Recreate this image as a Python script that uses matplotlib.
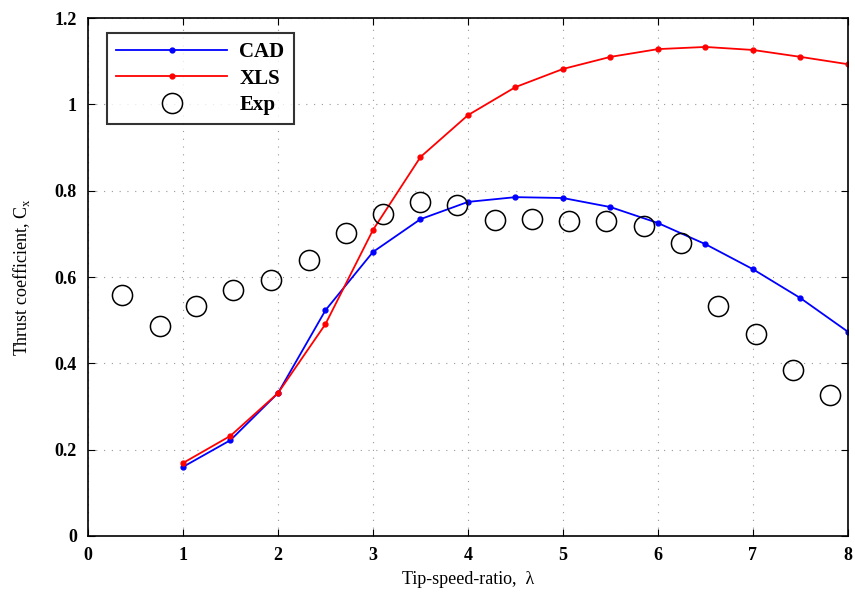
import matplotlib
matplotlib.use("Agg")
import matplotlib.pyplot as plt

plt.rcParams['font.family'] = ['Liberation Serif', 'DejaVu Serif']
plt.rcParams['mathtext.fontset'] = 'custom'
plt.rcParams['mathtext.rm'] = 'Liberation Serif'

tsr = [1, 1.5, 2, 2.5, 3, 3.5, 4, 4.5, 5, 5.5, 6, 6.5, 7, 7.5, 8]
cad = [0.160, 0.222, 0.331, 0.523, 0.658, 0.734, 0.774, 0.785, 0.783,
       0.762, 0.725, 0.676, 0.618, 0.551, 0.473]
xls = [0.169, 0.232, 0.331, 0.491, 0.709, 0.878, 0.975, 1.040, 1.082,
       1.110, 1.128, 1.133, 1.126, 1.110, 1.093]

exp_x = [0.36, 0.76, 1.14, 1.53, 1.93, 2.33, 2.72, 3.11, 3.49, 3.88,
         4.28, 4.67, 5.06, 5.45, 5.85, 6.24, 6.63, 7.03, 7.42, 7.81]
exp_y = [0.558, 0.486, 0.533, 0.570, 0.593, 0.639, 0.702, 0.746, 0.774, 0.767,
         0.732, 0.734, 0.730, 0.730, 0.718, 0.679, 0.533, 0.468, 0.385, 0.327]

fig = plt.figure(figsize=(8.55, 6.01), dpi=100)
ax = fig.add_axes([0.1029, 0.1082, 0.8889, 0.8618])

ax.plot(tsr, cad, color='blue', lw=1.3, marker='.', ms=7, label='CAD')
ax.plot(tsr, xls, color='red', lw=1.3, marker='.', ms=7, label='XLS')
ax.plot(exp_x, exp_y, ls='none', marker='o', ms=14.5, mfc='none', mec='black',
        mew=1.1, label='Exp')

ax.set_xlim(0, 8)
ax.set_ylim(0, 1.2)
ax.set_xticks(range(9))
ax.set_yticks([0, 0.2, 0.4, 0.6, 0.8, 1.0, 1.2])
ax.set_yticklabels(['0', '0.2', '0.4', '0.6', '0.8', '1', '1.2'])
ax.grid(True, ls=(0, (1, 6)), color='#999999', lw=0.8)
ax.tick_params(direction='in', top=True, right=True, length=5, labelsize=13, pad=8)
for lab in ax.get_xticklabels() + ax.get_yticklabels():
    lab.set_fontweight('bold')
for s in ax.spines.values():
    s.set_linewidth(1.2)

ax.set_xlabel('Tip-speed-ratio,  λ', fontsize=13, labelpad=5)
ax.set_ylabel('Thrust coefficient, C$_\\mathregular{x}$', fontsize=13, labelpad=16)

leg = ax.legend(loc='upper left', bbox_to_anchor=(0.025, 0.971),
                prop={'size': 15, 'weight': 'bold'},
                frameon=True, fancybox=False, edgecolor='black', borderaxespad=0,
                handlelength=5.3, handletextpad=0.6, borderpad=0.45,
                labelspacing=0.3)
leg.get_frame().set_linewidth(1.5)

fig.savefig('out.png', dpi=100)
